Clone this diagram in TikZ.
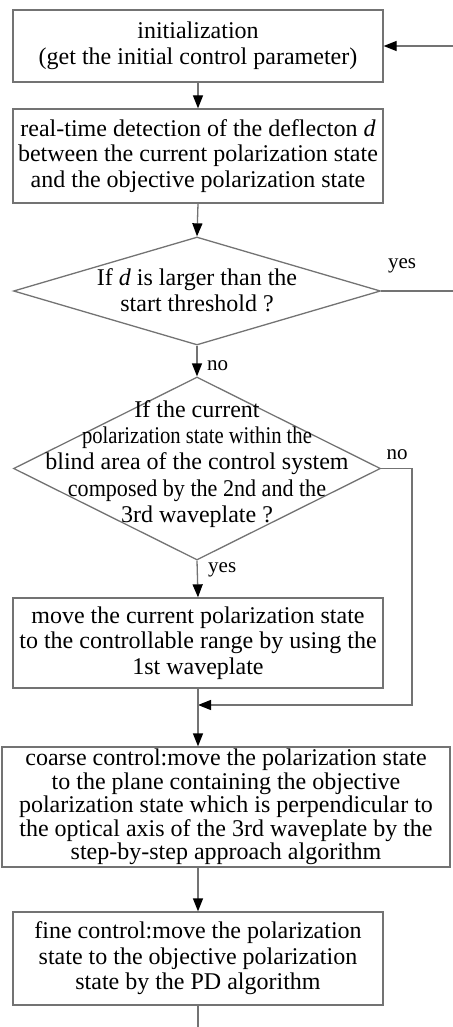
\documentclass[tikz,border=0pt]{standalone}
\usepackage{fontspec}
\setmainfont{Liberation Serif}
\usepackage{graphicx}
\usetikzlibrary{shapes.geometric,arrows.meta}
\definecolor{linegray}{gray}{0.45}
\begin{document}
\begin{tikzpicture}[x=1pt,y=-1pt,
  txt/.style={font=\fontsize{24}{25.5}\selectfont, align=center, inner sep=0pt},
  procbox/.style={draw=linegray, line width=1.3pt, fill=white, inner sep=0pt, txt},
  decision/.style={draw=linegray, line width=1.3pt, diamond, inner sep=0pt},
  lbl/.style={font=\fontsize{21}{24}\selectfont, inner sep=0pt},
  conn/.style={draw=linegray, line width=1.3pt},
  arr/.style={conn, -{Triangle[length=13pt,width=10pt,color=black]}}
]
\useasboundingbox (0,0) rectangle (452,1027);

\node[procbox, minimum width=370, minimum height=72] (b1) at (198,46)
  {initialization\\(get the initial control parameter)};
\node[procbox, minimum width=370, minimum height=94] (b2) at (198,156)
  {real-time detection of the deflecton \textit{d}\\between the current polarization state\\and the objective polarization state};
\node[decision, minimum width=367, minimum height=108] (d1) at (197,291) {};
\node[txt] (d1t) at (197,290) {If \textit{d} is larger than the\\start threshold ?};
\node[decision, minimum width=367, minimum height=183] (d2) at (197,468.5) {};
\node[txt, font=\fontsize{24}{26.2}\selectfont] (d2t) at (197,464)
  {If the current\\\scalebox{0.86}[1]{polarization state within the}\\blind area of the control system\\\scalebox{0.92}[1]{composed by the 2nd and the}\\3rd waveplate ?};
\node[procbox, minimum width=370, minimum height=90] (b3) at (198,643)
  {move the current polarization state\\to the controllable range by using the\\1st waveplate};
\node[procbox, minimum width=448, minimum height=120, font=\fontsize{24}{23.6}\selectfont] (b4) at (226,807)
  {coarse control:move the polarization state\\to the plane containing the objective\\polarization state which is perpendicular to\\the optical axis of the 3rd waveplate by the\\step-by-step approach algorithm};
\node[procbox, minimum width=370, minimum height=93] (b5) at (198,958.5)
  {fine control:move the polarization\\state to the objective polarization\\state by the PD algorithm};

\coordinate (r1) at (454,291);
\coordinate (r2) at (454,46);
\coordinate (n1) at (412,468.5);
\coordinate (n2) at (412,705);
\coordinate (j) at (198,705);
\coordinate (endp) at (198,1027);

\draw[arr] (b1.south) -- (b2.north);
\draw[arr] (b2.south) -- (d1.north);
\draw[arr] (d1.south) -- (d2.north);
\draw[arr] (d1.east) -- (r1) -- (r2) -- (b1.east);
\draw[arr] (d2.south) -- (b3.north);
\draw[arr] (d2.east) -- (n1) -- (n2) -- (j);
\draw[arr] (b3.south) -- (b3.south |- b4.north);
\draw[arr] (b3.south |- b4.south) -- (b5.north);
\draw[conn] (b5.south) -- (endp);

\node[lbl] (ly1) at (402,266) {yes};
\node[lbl, anchor=west] (ln1) at (207,366) {no};
\node[lbl] (ln2) at (397,455) {no};
\node[lbl, anchor=west] (ly2) at (208,570) {yes};
\end{tikzpicture}
\end{document}
